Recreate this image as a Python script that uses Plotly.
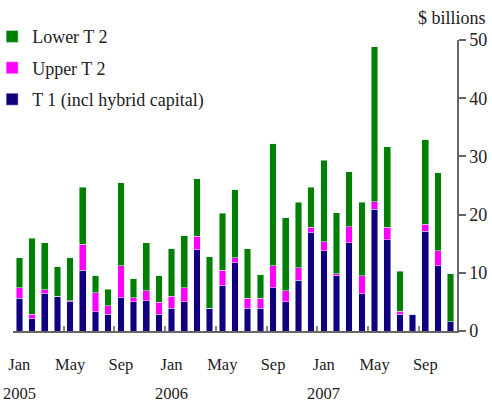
import plotly.graph_objects as go

months = ["Jan", "Feb", "Mar", "Apr", "May", "Jun", "Jul", "Aug", "Sep", "Oct", "Nov", "Dec",
          "Jan", "Feb", "Mar", "Apr", "May", "Jun", "Jul", "Aug", "Sep", "Oct", "Nov", "Dec",
          "Jan", "Feb", "Mar", "Apr", "May", "Jun", "Jul", "Aug", "Sep", "Oct", "Nov"]
tier1 = [5.6, 2.1, 6.4, 6.0, 5.0, 10.4, 3.3, 2.9, 5.7, 5.0, 5.2, 2.9,
         3.9, 5.0, 14.0, 3.9, 7.8, 11.7, 3.9, 3.9, 7.4, 5.0, 8.7, 16.9,
         13.8, 9.5, 15.2, 6.4, 20.9, 15.7, 2.9, 2.8, 17.1, 11.2, 1.6]
upper_t2 = [1.8, 0.8, 0.7, 0.0, 0.2, 4.5, 3.3, 1.4, 5.5, 0.7, 1.7, 2.0,
            2.1, 2.4, 2.3, 0.0, 2.6, 0.9, 1.7, 1.7, 3.8, 1.9, 2.2, 0.9,
            1.5, 0.3, 2.7, 3.1, 1.3, 2.1, 0.5, 0.0, 1.2, 2.6, 0.0]
lower_t2 = [5.2, 13.0, 8.1, 5.0, 7.4, 9.8, 2.9, 2.9, 14.3, 3.3, 8.3, 4.6,
            8.1, 9.0, 9.9, 8.9, 9.8, 11.7, 8.5, 4.1, 21.0, 12.6, 11.2, 6.9,
            14.0, 10.5, 9.5, 12.6, 26.6, 13.9, 6.9, 0.0, 14.6, 13.4, 8.2]
years = ["2005", "2006", "2007"]
y_ticks = [0, 10, 20, 30, 40, 50]

x = list(range(len(months)))
label_idx = [i for i in x if months[i] in ("Jan", "May", "Sep")]
boundary = [i - 0.5 for i in label_idx]
year_idx = [i for i in x if months[i] == "Jan"]

FONT = "Liberation Serif"
W, H = 492, 403
ml, mr, mt, mb = 13, 35, 40, 72
pw, ph = W - ml - mr, H - mt - mb

fig = go.Figure()
fig.add_bar(x=x, y=tier1, name="T 1 (incl hybrid capital)", marker_color="#10007F",
            width=0.52, legendgroup="a", legendrank=3)
fig.add_bar(x=x, y=upper_t2, name="Upper T 2", marker_color="#FF00FF",
            width=0.52, legendgroup="b", legendrank=2)
fig.add_bar(x=x, y=lower_t2, name="Lower T 2", marker_color="#008000",
            width=0.52, legendgroup="c", legendrank=1)
# invisible trace to carry boundary ticks on overlay axis
fig.add_scatter(x=[boundary[0]], y=[0], xaxis="x2", mode="markers",
                marker=dict(opacity=0), showlegend=False, hoverinfo="skip")

fig.update_layout(
    width=W, height=H,
    margin=dict(l=ml, r=mr, t=mt, b=mb, autoexpand=False),
    barmode="stack",
    plot_bgcolor="white", paper_bgcolor="white",
    font=dict(family=FONT, size=16, color="#222222"),
    showlegend=True,
    legend=dict(x=-0.047, y=1.075, xanchor="left", yanchor="top",
                traceorder="grouped", tracegroupgap=5,
                itemwidth=30, font=dict(family=FONT, size=18, color="#222222"),
                bgcolor="rgba(0,0,0,0)"),
    xaxis=dict(range=[-0.5, len(months) - 0.5], tickmode="array",
               tickvals=label_idx, ticktext=[months[i] for i in label_idx],
               ticks="", showline=True, linecolor="#666666", linewidth=1.5,
               showgrid=False, zeroline=False, ticklabelstandoff=17,
               tickfont=dict(family=FONT, size=16.5, color="#222222")),
    xaxis2=dict(range=[-0.5, len(months) - 0.5], overlaying="x", anchor="y",
                tickmode="array", tickvals=boundary, ticks="inside", ticklen=5,
                tickcolor="#888888", tickwidth=2, showticklabels=False,
                showgrid=False, zeroline=False, showline=False),
    yaxis=dict(side="right", range=[0, 50], tickmode="array", tickvals=y_ticks,
               ticks="outside", ticklen=7, tickcolor="#666666", tickwidth=1.5,
               showline=True, linecolor="#666666", linewidth=1.5,
               showgrid=False, zeroline=False,
               tickfont=dict(family=FONT, size=18, color="#222222")),
)

for i, yr in zip(year_idx, years):
    fig.add_annotation(x=i, y=(H - mb - 393) / ph, xref="x", yref="paper",
                       text=yr, showarrow=False, yanchor="middle",
                       font=dict(family=FONT, size=16.5, color="#222222"))

fig.add_annotation(x=(452 - ml) / pw, y=1 + (mt - 18) / ph, xref="paper", yref="paper",
                   text="$ billions", showarrow=False, xanchor="center", yanchor="middle",
                   font=dict(family=FONT, size=18, color="#222222"))

fig.write_html("out.html", config={"displayModeBar": False},
               post_script="document.body.style.margin='0';document.body.style.padding='0';")
